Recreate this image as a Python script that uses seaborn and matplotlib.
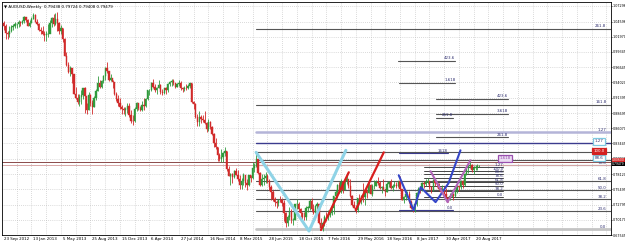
import matplotlib
matplotlib.use("Agg")
import matplotlib.pyplot as plt
import seaborn as sns
import numpy as np
import pandas as pd

# ---------------- data (weekly AUDUSD, week 0 = 23 Sep 2012) ----------------
first_open = 1.0440
close = [1.0380, 1.0260, 1.0250, 1.0290, 1.0370, 1.0380, 1.0410, 1.0410, 1.0460, 1.0430,
         1.0470, 1.0530, 1.0480, 1.0390, 1.0440, 1.0510, 1.0580, 1.0460, 1.0420, 1.0320,
         1.0290, 1.0240, 1.0230, 1.0240, 1.0250, 1.0440, 1.0520, 1.0410, 1.0500, 1.0440,
         1.0300, 1.0350, 1.0160, 0.9870, 0.9700, 0.9590, 0.9650, 0.9550, 0.9210, 0.9140,
         0.9060, 0.9150, 0.9190, 0.9300, 0.9170, 0.8930, 0.9180, 0.9040, 0.8980, 0.9130,
         0.9260, 0.9390, 0.9320, 0.9430, 0.9520, 0.9660, 0.9600, 0.9450, 0.9480, 0.9410,
         0.9200, 0.9120, 0.9050, 0.8980, 0.8950, 0.8920, 0.8950, 0.8990, 0.8840, 0.8740,
         0.8730, 0.8950, 0.9040, 0.8960, 0.8930, 0.9010, 0.9000, 0.9110, 0.9270, 0.9280,
         0.9400, 0.9330, 0.9280, 0.9300, 0.9350, 0.9230, 0.9220, 0.9300, 0.9270, 0.9370,
         0.9410, 0.9430, 0.9390, 0.9330, 0.9380, 0.9390, 0.9300, 0.9290, 0.9310, 0.9300,
         0.9340, 0.9390, 0.9060, 0.9020, 0.8800, 0.8710, 0.8810, 0.8770, 0.8750, 0.8690,
         0.8600, 0.8720, 0.8630, 0.8500, 0.8360, 0.8290, 0.8140, 0.8070, 0.8100, 0.8170,
         0.8210, 0.7900, 0.7780, 0.7810, 0.7760, 0.7860, 0.7800, 0.7720, 0.7630, 0.7700,
         0.7790, 0.7650, 0.7630, 0.7790, 0.7740, 0.7910, 0.7950, 0.8070, 0.7830, 0.7630,
         0.7720, 0.7740, 0.7780, 0.7690, 0.7590, 0.7500, 0.7380, 0.7320, 0.7310, 0.7370,
         0.7360, 0.7310, 0.7140, 0.6960, 0.7070, 0.7160, 0.7010, 0.7020, 0.7290, 0.7300,
         0.7210, 0.7130, 0.7070, 0.7060, 0.7230, 0.7230, 0.7340, 0.7210, 0.7140, 0.7250,
         0.7290, 0.6970, 0.6880, 0.6960, 0.7070, 0.7060, 0.7110, 0.7130, 0.7220, 0.7430,
         0.7500, 0.7620, 0.7500, 0.7670, 0.7530, 0.7700, 0.7730, 0.7600, 0.7440, 0.7270,
         0.7230, 0.7190, 0.7390, 0.7350, 0.7440, 0.7420, 0.7530, 0.7480, 0.7630, 0.7470,
         0.7600, 0.7600, 0.7670, 0.7650, 0.7570, 0.7580, 0.7550, 0.7500, 0.7640, 0.7670,
         0.7570, 0.7600, 0.7620, 0.7600, 0.7690, 0.7550, 0.7370, 0.7420, 0.7460, 0.7470,
         0.7330, 0.7220, 0.7210, 0.7300, 0.7480, 0.7560, 0.7540, 0.7660, 0.7640, 0.7670,
         0.7690, 0.7590, 0.7530, 0.7710, 0.7650, 0.7640, 0.7550, 0.7500, 0.7530, 0.7470,
         0.7390, 0.7380, 0.7440, 0.7460, 0.7430, 0.7530, 0.7610, 0.7580, 0.7690, 0.7620,
         0.7810, 0.7920, 0.7960, 0.7970, 0.7880, 0.7920, 0.7930, 0.7944, 0.79479]
high = [1.0470, 1.0420, 1.0290, 1.0380, 1.0400, 1.0420, 1.0450, 1.0440, 1.0480, 1.0470,
        1.0490, 1.0560, 1.0540, 1.0500, 1.0480, 1.0530, 1.0600, 1.0590, 1.0500, 1.0440,
        1.0370, 1.0380, 1.0300, 1.0300, 1.0420, 1.0480, 1.0530, 1.0590, 1.0600, 1.0620,
        1.0450, 1.0400, 1.0350, 1.0170, 0.9930, 0.9750, 0.9680, 0.9630, 0.9510, 0.9330,
        0.9200, 0.9200, 0.9280, 0.9310, 0.9320, 0.9040, 0.9230, 0.9200, 0.9100, 0.9160,
        0.9290, 0.9510, 0.9450, 0.9450, 0.9530, 0.9670, 0.9760, 0.9600, 0.9550, 0.9440,
        0.9410, 0.9230, 0.9190, 0.9130, 0.9010, 0.8980, 0.8970, 0.9040, 0.9050, 0.8920,
        0.8830, 0.8980, 0.9060, 0.9050, 0.9000, 0.9080, 0.9130, 0.9130, 0.9280, 0.9290,
        0.9410, 0.9460, 0.9380, 0.9330, 0.9450, 0.9370, 0.9290, 0.9310, 0.9320, 0.9390,
        0.9430, 0.9460, 0.9460, 0.9400, 0.9400, 0.9440, 0.9430, 0.9330, 0.9340, 0.9380,
        0.9380, 0.9400, 0.9400, 0.9080, 0.9050, 0.8850, 0.8900, 0.8840, 0.8830, 0.8900,
        0.8710, 0.8770, 0.8740, 0.8650, 0.8520, 0.8440, 0.8290, 0.8180, 0.8250, 0.8200,
        0.8290, 0.8220, 0.7950, 0.7830, 0.7830, 0.7890, 0.7910, 0.7880, 0.7790, 0.7750,
        0.7830, 0.7800, 0.7730, 0.7800, 0.7800, 0.8030, 0.8000, 0.8163, 0.8080, 0.7850,
        0.7820, 0.7810, 0.7840, 0.7810, 0.7730, 0.7620, 0.7530, 0.7420, 0.7370, 0.7380,
        0.7440, 0.7390, 0.7360, 0.7150, 0.7100, 0.7240, 0.7200, 0.7050, 0.7300, 0.7380,
        0.7330, 0.7220, 0.7160, 0.7160, 0.7250, 0.7260, 0.7380, 0.7390, 0.7290, 0.7270,
        0.7320, 0.7300, 0.7050, 0.7000, 0.7100, 0.7160, 0.7190, 0.7190, 0.7250, 0.7440,
        0.7530, 0.7640, 0.7680, 0.7720, 0.7680, 0.7740, 0.7830, 0.7730, 0.7720, 0.7450,
        0.7340, 0.7280, 0.7400, 0.7460, 0.7450, 0.7650, 0.7540, 0.7540, 0.7670, 0.7640,
        0.7640, 0.7710, 0.7710, 0.7760, 0.7690, 0.7600, 0.7730, 0.7560, 0.7670, 0.7700,
        0.7730, 0.7640, 0.7700, 0.7680, 0.7700, 0.7780, 0.7560, 0.7440, 0.7530, 0.7520,
        0.7520, 0.7370, 0.7240, 0.7330, 0.7500, 0.7580, 0.7610, 0.7680, 0.7690, 0.7730,
        0.7740, 0.7700, 0.7610, 0.7720, 0.7750, 0.7690, 0.7660, 0.7580, 0.7620, 0.7610,
        0.7570, 0.7420, 0.7480, 0.7520, 0.7480, 0.7540, 0.7630, 0.7610, 0.7710, 0.7710,
        0.7830, 0.7930, 0.8000, 0.8060, 0.7980, 0.7960, 0.7970, 0.7990, 0.79724]
low = [1.0320, 1.0150, 1.0150, 1.0200, 1.0280, 1.0320, 1.0350, 1.0350, 1.0370, 1.0390,
       1.0410, 1.0440, 1.0460, 1.0380, 1.0370, 1.0430, 1.0500, 1.0450, 1.0400, 1.0300,
       1.0250, 1.0220, 1.0120, 1.0120, 1.0190, 1.0290, 1.0370, 1.0380, 1.0400, 1.0290,
       1.0250, 1.0240, 1.0100, 0.9860, 0.9680, 0.9570, 0.9520, 0.9400, 0.9200, 0.9120,
       0.9030, 0.9000, 0.9020, 0.9120, 0.8880, 0.8850, 0.8920, 0.8990, 0.8850, 0.8980,
       0.9100, 0.9250, 0.9300, 0.9300, 0.9400, 0.9440, 0.9570, 0.9430, 0.9420, 0.9310,
       0.9190, 0.9080, 0.9000, 0.8950, 0.8860, 0.8850, 0.8820, 0.8880, 0.8810, 0.8700,
       0.8660, 0.8710, 0.8900, 0.8920, 0.8900, 0.8910, 0.8920, 0.8970, 0.9090, 0.9190,
       0.9260, 0.9310, 0.9240, 0.9200, 0.9300, 0.9200, 0.9180, 0.9210, 0.9210, 0.9230,
       0.9340, 0.9340, 0.9350, 0.9300, 0.9320, 0.9340, 0.9280, 0.9240, 0.9250, 0.9270,
       0.9290, 0.9300, 0.9050, 0.8940, 0.8780, 0.8650, 0.8640, 0.8690, 0.8710, 0.8680,
       0.8540, 0.8560, 0.8590, 0.8490, 0.8290, 0.8240, 0.8040, 0.8040, 0.8030, 0.8030,
       0.8120, 0.7860, 0.7770, 0.7630, 0.7650, 0.7740, 0.7790, 0.7700, 0.7560, 0.7560,
       0.7630, 0.7580, 0.7530, 0.7600, 0.7680, 0.7730, 0.7840, 0.7940, 0.7820, 0.7600,
       0.7600, 0.7620, 0.7650, 0.7660, 0.7530, 0.7370, 0.7340, 0.7250, 0.7230, 0.7260,
       0.7320, 0.7250, 0.7000, 0.6900, 0.6910, 0.7010, 0.6970, 0.6930, 0.7020, 0.7200,
       0.7160, 0.7070, 0.7030, 0.7010, 0.7020, 0.7150, 0.7190, 0.7170, 0.7120, 0.7130,
       0.7200, 0.6950, 0.6860, 0.6827, 0.6910, 0.7000, 0.7020, 0.7070, 0.7110, 0.7120,
       0.7370, 0.7390, 0.7490, 0.7490, 0.7490, 0.7540, 0.7640, 0.7570, 0.7420, 0.7260,
       0.7220, 0.7140, 0.7150, 0.7330, 0.7290, 0.7320, 0.7280, 0.7400, 0.7490, 0.7460,
       0.7440, 0.7560, 0.7600, 0.7630, 0.7560, 0.7490, 0.7530, 0.7440, 0.7500, 0.7580,
       0.7550, 0.7520, 0.7590, 0.7570, 0.7580, 0.7530, 0.7360, 0.7310, 0.7360, 0.7410,
       0.7310, 0.7200, 0.7160, 0.7160, 0.7260, 0.7440, 0.7490, 0.7520, 0.7570, 0.7610,
       0.7640, 0.7560, 0.7490, 0.7520, 0.7610, 0.7580, 0.7530, 0.7490, 0.7490, 0.7460,
       0.7380, 0.7330, 0.7370, 0.7410, 0.7370, 0.7420, 0.7490, 0.7520, 0.7560, 0.7570,
       0.7610, 0.7790, 0.7830, 0.7920, 0.7850, 0.7810, 0.7880, 0.7880, 0.79408]
last_open = 0.79438

price_ticks = [1.07296, 1.04596, 1.01970, 0.99345, 0.96645, 0.94020, 0.91395, 0.88695,
               0.86070, 0.83445, 0.80820, 0.78120, 0.75495, 0.72795, 0.70170, 0.67545]
date_ticks = [0, 16, 32, 48, 64, 80, 96, 112, 128, 144, 160, 176, 192, 208, 224, 240, 256]
date_labels = ["23 Sep 2012", "13 Jan 2013", "5 May 2013", "25 Aug 2013", "15 Dec 2013",
               "6 Apr 2014", "27 Jul 2014", "16 Nov 2014", "8 Mar 2015", "28 Jun 2015",
               "18 Oct 2015", "7 Feb 2016", "29 May 2016", "18 Sep 2016", "8 Jan 2017",
               "30 Apr 2017", "20 Aug 2017"]
title_text = "AUDUSD,Weekly  0.79438 0.79724 0.79408 0.79479"

# big Fibonacci grid (from week 137 to the right edge)
fib_levels = [1.0332, 0.9019, 0.8535, 0.8345, 0.8189, 0.8051, 0.7964, 0.7688, 0.7532, 0.7377, 0.7169, 0.6850]
fib_labels = ["261.8", "161.8", "1.27", "", "100.0", "88.6", "78.6", "61.8", "50.0", "38.2", "23.6", "0.0"]
fib_start = 137
# short extension lines
ext_start = [213.7, 214.3, 234.3, 234.3, 234.3, 234.3, 214.3, 214.3]
ext_end = [245.1, 245.1, 273.8, 273.8, 244.0, 273.8, 240.8, 243.5]
ext_price = [0.9779, 0.9399, 0.9122, 0.8863, 0.8794, 0.8448, 0.8172, 0.7187]
ext_label = ["423.6", "1.618", "423.6", "3.618", "261.8", "261.8", "1618", "0.0"]
# small retracement grid
small_levels = [0.7930, 0.7861, 0.7809, 0.7740, 0.7670, 0.7601, 0.7515, 0.7411]
small_labels = ["1.27", "100.0", "88.6", "78.6", "61.8", "50.0", "38.2", "0.0"]

# drawn patterns (week, price)
lb_w = [136.9, 165.6, 185.6]
lb_p = [0.8189, 0.6824, 0.8224]
red1_w = [172.1, 187.2]
red1_p = [0.6841, 0.7843]
red2_w = [191.0, 206.2]
red2_p = [0.7187, 0.8189]
blue_w = [214.3, 222.4, 226.2, 234.3, 241.3, 247.8]
blue_p = [0.7792, 0.7187, 0.7584, 0.7325, 0.7653, 0.8224]
purp_w = [231.6, 240.8, 253.2]
purp_p = [0.7861, 0.7325, 0.8051]

# boxed notes
note_w = [272.0, 323.0, 323.0, 323.0]
note_p = [0.8085, 0.8379, 0.8094, 0.8215]
note_t = ["1.618", "1.27", "88.6", "100.0"]
note_fc = ["#eadcf2", "white", "white", "#d42020"]
note_ec = ["#9a4fae", "#7ec9e0", "#7ec9e0", "#d42020"]
note_tc = ["#9a4fae", "#303070", "#303070", "white"]

bid_line = 0.8016
cur_line = 0.7964

# ---------------- figure ----------------
sns.set_theme(style="white")
plt.rcParams["font.family"] = ["Liberation Sans Narrow", "DejaVu Sans"]
FS = 2.9
FSY = 2.4
fig = plt.figure(figsize=(6.25, 2.45), dpi=100)
ax = fig.add_axes([2/625, 10/245, 609/625, 233/245])
ax.set_xlim(-1, 329.5)
ax.set_ylim(0.67545, 1.0799)

# grid
for p in price_ticks:
    ax.axhline(p, color="#b8b8b8", lw=0.5, ls=(0, (1, 2)), zorder=0)
for w in np.arange(7, 330, 8):
    ax.axvline(w, color="#b8b8b8", lw=0.5, ls=(0, (1, 2)), zorder=0)

# candles
n = len(close)
opens = [first_open] + close[:-1]
opens[-1] = last_open
df = pd.DataFrame({"w": np.arange(n), "o": opens, "h": high, "l": low, "c": close})
df["up"] = df["c"] >= df["o"]
col = np.where(df["up"], "#2f9a3c", "#d12a2a")
ax.vlines(df["w"], df["l"], df["h"], colors=col, lw=0.6, zorder=3)
bot = np.minimum(df["o"], df["c"])
hgt = np.maximum(np.abs(df["c"] - df["o"]), 0.0008)
ax.bar(df["w"], hgt, bottom=bot, width=0.7, color=col, edgecolor=col, lw=0.3, zorder=3)

# fib grid
for lev, lab in zip(fib_levels, fib_labels):
    c = "#555555"
    lw = 0.8
    if lab == "1.27":
        c, lw = "#b4b4d8", 1.8
    if lab == "0.0":
        c, lw = "#c4c4c4", 2.0
    if lab == "":
        c, lw = "#3b3b8e", 1.0
    ax.plot([fib_start, 330], [lev, lev], color=c, lw=lw, zorder=2)
    if lab and lab not in ("88.6", "100.0"):
        ax.text(327, lev + 0.001, lab, fontsize=FS, color="#303070", ha="right", va="bottom", zorder=6)

for s, e, p, lab in zip(ext_start, ext_end, ext_price, ext_label):
    c = "#3b3b8e" if lab in ("1618", "0.0") else "#555555"
    ax.plot([s, e], [p, p], color=c, lw=0.8, zorder=2)
    ax.text(e, p + 0.001, lab, fontsize=FS, color="#303070", ha="right", va="bottom", zorder=6)

for p, lab in zip(small_levels, small_labels):
    ax.plot([227.8, 271.1], [p, p], color="#444444", lw=0.7, zorder=2)
    ax.text(271.1, p, lab, fontsize=FS, color="#303070", ha="right", va="bottom", zorder=6)

# patterns
sns.lineplot(data=pd.DataFrame({"w": lb_w, "p": lb_p}), x="w", y="p", sort=False, color="#8fd3e6", lw=2.2, ax=ax, zorder=4)
sns.lineplot(data=pd.DataFrame({"w": red1_w, "p": red1_p}), x="w", y="p", sort=False, color="#d81e1e", lw=1.6, ax=ax, zorder=4)
sns.lineplot(data=pd.DataFrame({"w": red2_w, "p": red2_p}), x="w", y="p", sort=False, color="#d81e1e", lw=1.6, ax=ax, zorder=4)
sns.lineplot(data=pd.DataFrame({"w": blue_w, "p": blue_p}), x="w", y="p", sort=False, color="#3546c8", lw=1.5, ax=ax, zorder=4)
sns.lineplot(data=pd.DataFrame({"w": purp_w, "p": purp_p}), x="w", y="p", sort=False, color="#b065b8", lw=1.5, ax=ax, zorder=4)

# boxed notes
for w, p, t, fc, ec, tc in zip(note_w, note_p, note_t, note_fc, note_ec, note_tc):
    ax.text(w, p, t, fontsize=FS, color=tc, ha="center", va="center", zorder=7,
            bbox=dict(boxstyle="square,pad=0.3", fc=fc, ec=ec, lw=0.9))

# price lines
ax.axhline(bid_line, color="#8b4a4a", lw=0.7, zorder=2)
ax.axhline(cur_line, color="#d9a8a8", lw=0.7, zorder=2)

# axes styling
ax.set_xlabel("")
ax.set_ylabel("")
ax.yaxis.tick_right()
ax.set_yticks(price_ticks)
ax.set_yticklabels([f"{p:.5f}" for p in price_ticks], fontsize=FSY)
ax.set_xticks(date_ticks)
ax.set_xticklabels(date_labels, fontsize=FS, ha="left")
ax.tick_params(axis="both", length=0.8, width=0.5, pad=0.4, colors="black")
for s in ax.spines.values():
    s.set_color("black")
    s.set_linewidth(0.6)
ax.text(0.003, 0.985, "\u25bc " + title_text, transform=ax.transAxes, fontsize=FS,
        ha="left", va="top", color="black")

# right-side price labels
ax.text(1.002, 0.8060, "0.80600", transform=ax.get_yaxis_transform(), fontsize=2.2, color="white",
        va="center", ha="left", bbox=dict(boxstyle="square,pad=0.05", fc="#d42020", ec="none"))
ax.text(1.002, 0.7981, "0.79479", transform=ax.get_yaxis_transform(), fontsize=2.2, color="white",
        va="center", ha="left", bbox=dict(boxstyle="square,pad=0.05", fc="black", ec="none"))

fig.savefig("out.png", dpi=100, facecolor="white")
